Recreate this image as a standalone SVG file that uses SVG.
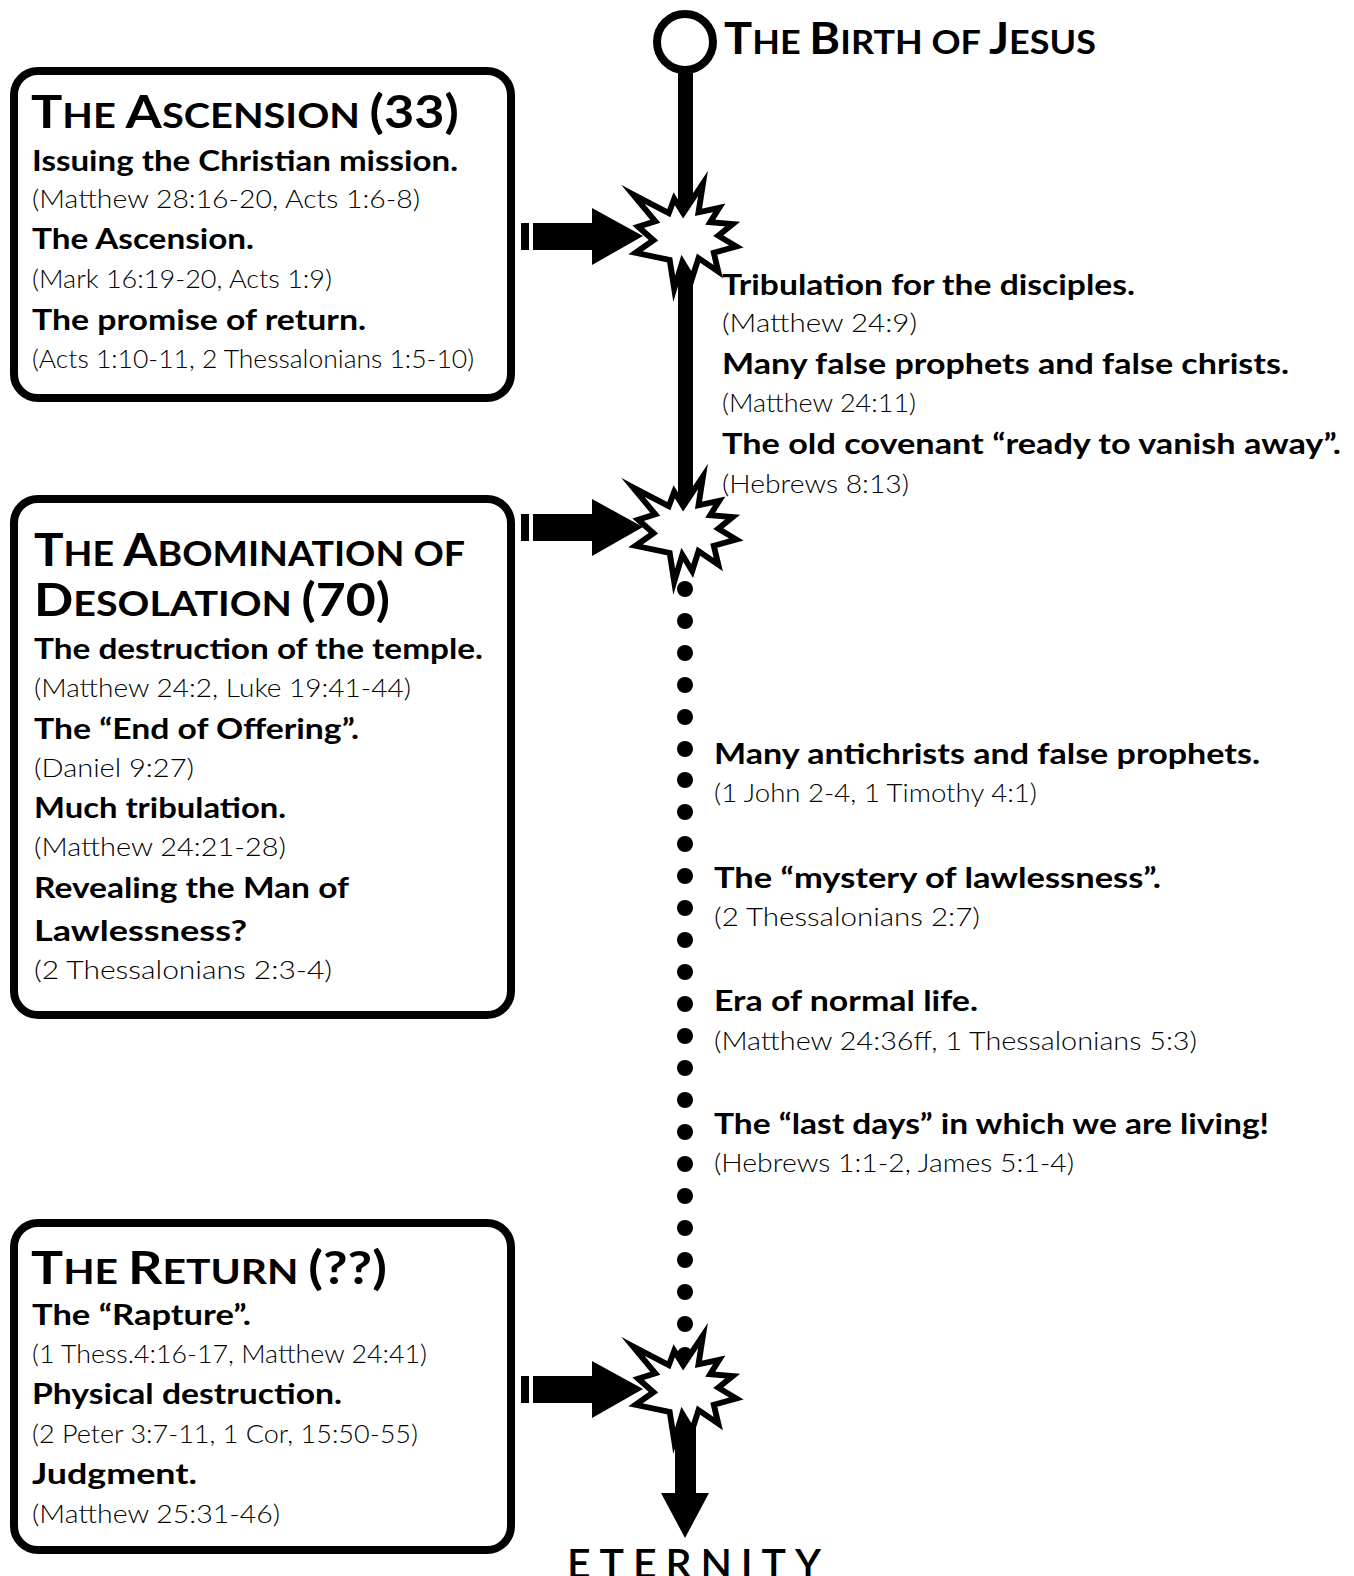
<svg xmlns="http://www.w3.org/2000/svg" width="1354" height="1576" viewBox="0 0 1354 1576">
<style>
text{font-family:Lato,"Open Sans","Liberation Sans",sans-serif;fill:#000}
.b{font-size:29px;font-weight:700}
.r{font-size:26px;font-weight:300}
.t{font-size:46px;font-weight:700}
.s{font-size:35px}
.box{fill:#fff;stroke:#000;stroke-width:8}
.dot{fill:#000}
</style>
<defs>
<polygon id="star" transform="scale(0.9)" points="-58,-43 -18,-22 -12,-38 -2,-22 20,-55 15,-23 38,-28 28,-12 53,-10 37,3 57,15 32,22 37,43 15,28 8,50 -3,32 -12,62 -17,30 -55,22 -35,8 -52,-7 -33,-13" fill="#fff" stroke="#000" stroke-width="6.5" stroke-miterlimit="10"/>
<g id="arrow">
<rect x="521" y="-13" width="8" height="27"/>
<rect x="533" y="-13" width="62" height="27"/>
<polygon points="592,-28 643,0 592,29"/>
</g>
</defs>

<g id="connectors">
<rect x="678" y="68" width="15" height="455"/>
<g id="dots">
<circle class="dot" cx="685" cy="589" r="8"/><circle class="dot" cx="685" cy="621" r="8"/><circle class="dot" cx="685" cy="653" r="8"/><circle class="dot" cx="685" cy="685" r="8"/><circle class="dot" cx="685" cy="717" r="8"/><circle class="dot" cx="685" cy="749" r="8"/><circle class="dot" cx="685" cy="780" r="8"/><circle class="dot" cx="685" cy="812" r="8"/><circle class="dot" cx="685" cy="844" r="8"/><circle class="dot" cx="685" cy="876" r="8"/><circle class="dot" cx="685" cy="908" r="8"/><circle class="dot" cx="685" cy="940" r="8"/><circle class="dot" cx="685" cy="972" r="8"/><circle class="dot" cx="685" cy="1004" r="8"/><circle class="dot" cx="685" cy="1036" r="8"/><circle class="dot" cx="685" cy="1068" r="8"/><circle class="dot" cx="685" cy="1100" r="8"/><circle class="dot" cx="685" cy="1132" r="8"/><circle class="dot" cx="685" cy="1164" r="8"/><circle class="dot" cx="685" cy="1196" r="8"/><circle class="dot" cx="685" cy="1228" r="8"/><circle class="dot" cx="685" cy="1260" r="8"/><circle class="dot" cx="685" cy="1292" r="8"/><circle class="dot" cx="685" cy="1324" r="8"/><circle class="dot" cx="685" cy="1355" r="8"/>
</g>
<rect x="675" y="1385" width="21" height="110"/>
<polygon points="661,1493 709,1493 685,1538"/>
<use href="#arrow" y="236"/>
<use href="#arrow" y="527"/>
<use href="#arrow" y="1389"/>
</g>

<g id="birth">
<circle cx="685" cy="42" r="28" fill="#fff" stroke="#000" stroke-width="8"/>
<text x="724" y="54" textLength="372" lengthAdjust="spacingAndGlyphs" style="font-size:43px;font-weight:700">T<tspan style="font-size:33px">HE </tspan>B<tspan style="font-size:33px">IRTH OF </tspan>J<tspan style="font-size:33px">ESUS</tspan></text>
</g>

<g id="star1"><use href="#star" x="685" y="233"/></g>
<g id="star2"><use href="#star" x="685" y="526"/></g>
<g id="star3"><use href="#star" x="685" y="1385"/></g>

<g id="ascension">
<rect class="box" x="14" y="71" width="497" height="327" rx="24"/>
<text class="t" x="31" y="128" textLength="428" lengthAdjust="spacingAndGlyphs">T<tspan class="s">HE </tspan>A<tspan class="s">SCENSION </tspan>(33)</text>
<text class="b" x="32" y="171" textLength="426" lengthAdjust="spacingAndGlyphs">Issuing the Christian mission.</text>
<text class="r" x="32" y="208" textLength="388" lengthAdjust="spacingAndGlyphs">(Matthew 28:16-20, Acts 1:6-8)</text>
<text class="b" x="32" y="249" textLength="222" lengthAdjust="spacingAndGlyphs">The Ascension.</text>
<text class="r" x="32" y="288" textLength="300" lengthAdjust="spacingAndGlyphs">(Mark 16:19-20, Acts 1:9)</text>
<text class="b" x="32" y="330" textLength="334" lengthAdjust="spacingAndGlyphs">The promise of return.</text>
<text class="r" x="32" y="368" textLength="442" lengthAdjust="spacingAndGlyphs">(Acts 1:10-11, 2 Thessalonians 1:5-10)</text>
</g>

<g id="abomination">
<rect class="box" x="14" y="499" width="497" height="516" rx="24"/>
<text class="t" x="34" y="566" textLength="431" lengthAdjust="spacingAndGlyphs">T<tspan class="s">HE </tspan>A<tspan class="s">BOMINATION OF</tspan></text>
<text class="t" x="34" y="616" textLength="356" lengthAdjust="spacingAndGlyphs">D<tspan class="s">ESOLATION </tspan>(70)</text>
<text class="b" x="34" y="659" textLength="449" lengthAdjust="spacingAndGlyphs">The destruction of the temple.</text>
<text class="r" x="34" y="697" textLength="377" lengthAdjust="spacingAndGlyphs">(Matthew 24:2, Luke 19:41-44)</text>
<text class="b" x="34" y="739" textLength="325" lengthAdjust="spacingAndGlyphs">The “End of Offering”.</text>
<text class="r" x="34" y="777" textLength="160" lengthAdjust="spacingAndGlyphs">(Daniel 9:27)</text>
<text class="b" x="34" y="818" textLength="252" lengthAdjust="spacingAndGlyphs">Much tribulation.</text>
<text class="r" x="34" y="856" textLength="252" lengthAdjust="spacingAndGlyphs">(Matthew 24:21-28)</text>
<text class="b" x="34" y="898" textLength="315" lengthAdjust="spacingAndGlyphs">Revealing the Man of</text>
<text class="b" x="34" y="941" textLength="213" lengthAdjust="spacingAndGlyphs">Lawlessness?</text>
<text class="r" x="34" y="979" textLength="298" lengthAdjust="spacingAndGlyphs">(2 Thessalonians 2:3-4)</text>
</g>

<g id="return">
<rect class="box" x="14" y="1223" width="497" height="327" rx="24"/>
<text class="t" x="31" y="1284" textLength="356" lengthAdjust="spacingAndGlyphs">T<tspan class="s">HE </tspan>R<tspan class="s">ETURN </tspan>(??)</text>
<text class="b" x="32" y="1325" textLength="219" lengthAdjust="spacingAndGlyphs">The “Rapture”.</text>
<text class="r" x="32" y="1363" textLength="395" lengthAdjust="spacingAndGlyphs">(1 Thess.4:16-17, Matthew 24:41)</text>
<text class="b" x="32" y="1404" textLength="310" lengthAdjust="spacingAndGlyphs">Physical destruction.</text>
<text class="r" x="32" y="1443" textLength="386" lengthAdjust="spacingAndGlyphs">(2 Peter 3:7-11, 1 Cor, 15:50-55)</text>
<text class="b" x="32" y="1484" textLength="165" lengthAdjust="spacingAndGlyphs">Judgment.</text>
<text class="r" x="32" y="1523" textLength="248" lengthAdjust="spacingAndGlyphs">(Matthew 25:31-46)</text>
</g>

<g id="early-church">
<text class="b" x="722" y="295" textLength="413" lengthAdjust="spacingAndGlyphs">Tribulation for the disciples.</text>
<text class="r" x="722" y="332" textLength="195" lengthAdjust="spacingAndGlyphs">(Matthew 24:9)</text>
<text class="b" x="722" y="374" textLength="567" lengthAdjust="spacingAndGlyphs">Many false prophets and false christs.</text>
<text class="r" x="722" y="412" textLength="194" lengthAdjust="spacingAndGlyphs">(Matthew 24:11)</text>
<text class="b" x="722" y="454" textLength="619" lengthAdjust="spacingAndGlyphs">The old covenant “ready to vanish away”.</text>
<text class="r" x="722" y="493" textLength="187" lengthAdjust="spacingAndGlyphs">(Hebrews 8:13)</text>
</g>

<g id="church-age">
<text class="b" x="714" y="764" textLength="546" lengthAdjust="spacingAndGlyphs">Many antichrists and false prophets.</text>
<text class="r" x="714" y="802" textLength="323" lengthAdjust="spacingAndGlyphs">(1 John 2-4, 1 Timothy 4:1)</text>
<text class="b" x="714" y="888" textLength="447" lengthAdjust="spacingAndGlyphs">The “mystery of lawlessness”.</text>
<text class="r" x="714" y="926" textLength="266" lengthAdjust="spacingAndGlyphs">(2 Thessalonians 2:7)</text>
<text class="b" x="714" y="1011" textLength="264" lengthAdjust="spacingAndGlyphs">Era of normal life.</text>
<text class="r" x="714" y="1050" textLength="483" lengthAdjust="spacingAndGlyphs">(Matthew 24:36ff, 1 Thessalonians 5:3)</text>
<text class="b" x="714" y="1134" textLength="555" lengthAdjust="spacingAndGlyphs">The “last days” in which we are living!</text>
<text class="r" x="714" y="1172" textLength="360" lengthAdjust="spacingAndGlyphs">(Hebrews 1:1-2, James 5:1-4)</text>
</g>

<g id="eternity">
<text x="567" y="1578" textLength="254" lengthAdjust="spacing" style="font-size:41px;font-weight:600">ETERNITY</text>
</g>
</svg>
